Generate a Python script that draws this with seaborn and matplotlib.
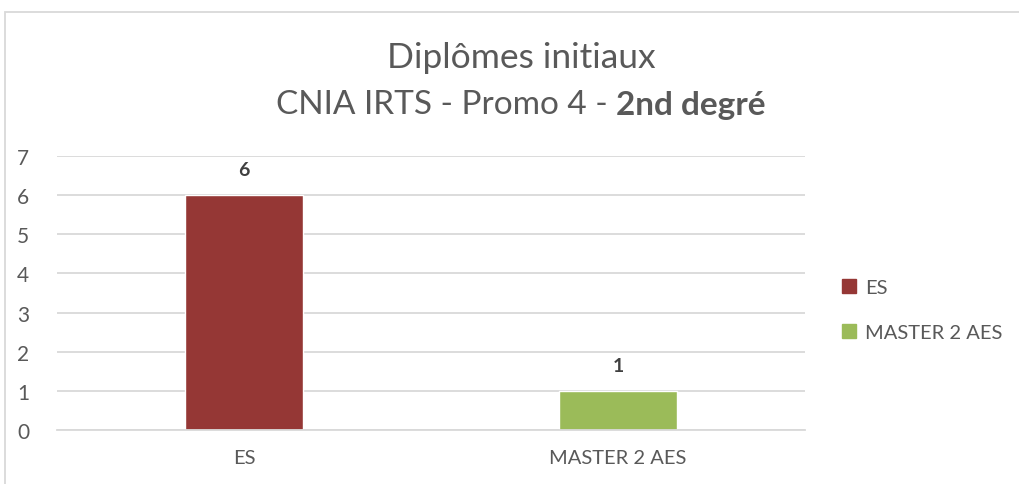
import matplotlib
matplotlib.use("Agg")
import matplotlib.pyplot as plt
import seaborn as sns
import pandas as pd
from matplotlib.patches import Rectangle, Patch

categories = ["ES", "MASTER 2 AES"]
values = [6, 1]
colors = ["#953735", "#9BBB59"]
yticks = [0, 1, 2, 3, 4, 5, 6, 7]
title_line1 = "Diplômes initiaux"
title_line2_normal = "CNIA IRTS - Promo 4 - "
title_line2_bold = "2nd degré"

sns.set_theme(style="white")
plt.rcParams["font.family"] = ["Lato", "DejaVu Sans"]

TXT = "#595959"
GRID = "#D9D9D9"

df = pd.DataFrame({"cat": categories, "val": values})

fig = plt.figure(figsize=(10.19, 4.85), dpi=100)
ax = fig.add_axes([57/1019, 1-431/485, (805-57)/1019, (431-157)/485])

sns.barplot(data=df, x="cat", y="val", hue="cat", palette=colors,
            order=categories, hue_order=categories, width=0.313,
            dodge=False, legend=False, ax=ax, saturation=1)

ax.set_ylim(0, 7)
ax.set_yticks(yticks)
ax.set_xlim(-0.5, 1.5)
ax.yaxis.grid(True, color=GRID, linewidth=1.3)
ax.set_axisbelow(True)
for s in ["left", "right", "top"]:
    ax.spines[s].set_visible(False)
ax.spines["bottom"].set_color(GRID)
ax.spines["bottom"].set_linewidth(1.3)
ax.set_xlabel("")
ax.set_ylabel("")
ax.tick_params(axis="y", length=0, pad=20, labelsize=15, labelcolor=TXT)
ax.tick_params(axis="x", length=0, pad=14, labelsize=14.5, labelcolor=TXT)

for c in ax.containers:
    ax.bar_label(c, fmt="%d", padding=12, fontsize=14, fontweight="bold", color="#404040")

# legend
handles = [Patch(facecolor=col, edgecolor=col, label=cat) for cat, col in zip(categories, colors)]
fig.legend(handles=handles, loc="center left", bbox_to_anchor=(824/1019, 1-311/485),
           frameon=False, fontsize=14.5, labelcolor=TXT, handlelength=0.7, handleheight=0.7,
           handletextpad=0.45, labelspacing=1.35)

# title
cx = 521/1019
fig.text(cx, 1-58/485, title_line1, ha="center", va="center", fontsize=25.5, color=TXT)
r = fig.canvas.get_renderer()
t1 = fig.text(0, 1-105/485, title_line2_normal, ha="left", va="center", fontsize=24, color=TXT)
t2 = fig.text(0, 1-105/485, title_line2_bold, ha="left", va="center", fontsize=24, color=TXT, fontweight="bold")
w1 = t1.get_window_extent(r).width / fig.bbox.width
w2 = t2.get_window_extent(r).width / fig.bbox.width
x0 = cx - (w1 + w2) / 2
t1.set_x(x0)
t2.set_x(x0 + w1)

# border
fig.patches.append(Rectangle((5/1019, -0.1), 1.1, 1.1 - 13/485, transform=fig.transFigure,
                             fill=False, edgecolor=GRID, linewidth=1.3))

fig.savefig("out.png", dpi=100, facecolor="white")
